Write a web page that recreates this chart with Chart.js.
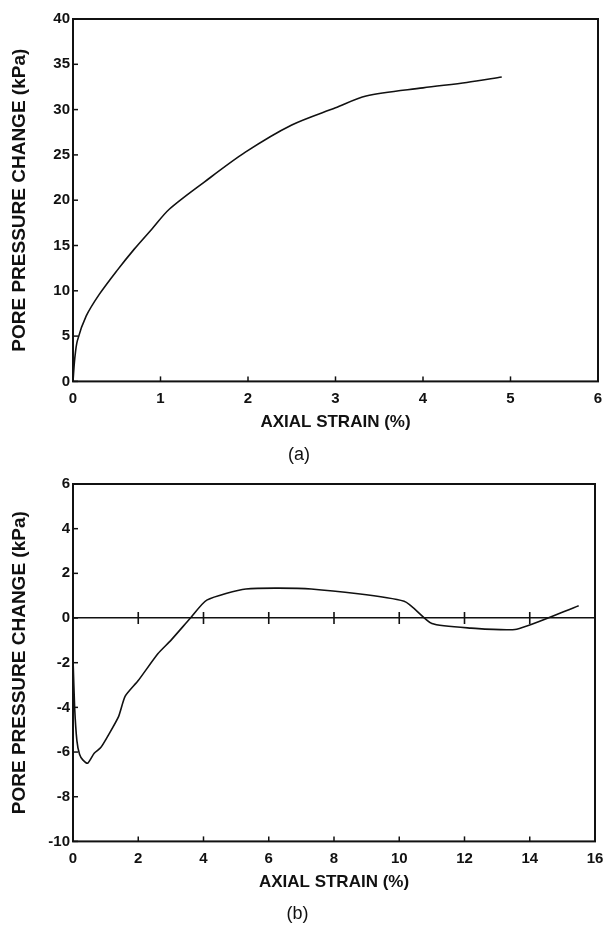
<!DOCTYPE html>
<html>
<head>
<meta charset="utf-8">
<script src="https://cdn.jsdelivr.net/npm/chart.js@4.4.1/dist/chart.umd.min.js"></script>
<style>
  body { margin:0; background:#fff; }
  .box { position:absolute; left:0; width:605px; }
</style>
</head>
<body>
<div class="box" style="top:0;height:466px"><canvas id="chartA"></canvas></div>
<div class="box" style="top:466px;height:459px"><canvas id="chartB"></canvas></div>
<script>
// (a) pore pressure vs strain
const strainA = [0, 0.02, 0.05, 0.15, 0.3, 0.5, 0.7, 0.9, 1.1, 1.5, 1.97, 2.5, 3.0, 3.35, 4.0, 4.5, 4.9];
const poreA   = [0, 2.5, 4.5, 7.2, 9.6, 12.2, 14.6, 16.8, 19.0, 22.0, 25.3, 28.3, 30.2, 31.5, 32.4, 33.0, 33.6];

// (b)
const strainB = [0, 0.05, 0.12, 0.2, 0.3, 0.45, 0.65, 0.85, 1.1, 1.4, 1.6, 2.0, 2.6, 3.0, 3.6, 4.1, 5.3, 7.3, 10.15, 11.0, 12.2, 13.6, 15.5];
const poreB   = [-1.8, -4.0, -5.5, -6.1, -6.35, -6.5, -6.05, -5.8, -5.2, -4.4, -3.5, -2.8, -1.6, -1.0, 0, 0.8, 1.3, 1.3, 0.75, -0.25, -0.45, -0.5, 0.55];
const zeroTicksB = [2, 4, 6, 8, 10, 12, 14];

const ink = '#111';
const tickFont = { family: 'Liberation Sans', size: 15, weight: 'bold' };
const titleFont = { family: 'Liberation Sans', size: 17, weight: 'bold' };

function pts(xs, ys) { return xs.map((x, i) => ({ x: x, y: ys[i] })); }

// frame + inward ticks
const framePlugin = {
  id: 'frame',
  afterDraw(chart) {
    const c = chart.ctx, a = chart.chartArea;
    c.save();
    c.strokeStyle = ink;
    c.lineWidth = 2;
    c.strokeRect(a.left, a.top, a.right - a.left, a.bottom - a.top);
    c.lineWidth = 1.5;
    chart.scales.x.ticks.forEach(t => {
      const px = chart.scales.x.getPixelForValue(t.value);
      c.beginPath(); c.moveTo(px, a.bottom); c.lineTo(px, a.bottom - 5); c.stroke();
    });
    chart.scales.y.ticks.forEach(t => {
      const py = chart.scales.y.getPixelForValue(t.value);
      c.beginPath(); c.moveTo(a.left, py); c.lineTo(a.left + 5, py); c.stroke();
    });
    c.restore();
  }
};

function axes(xmin, xmax, xstep, ymin, ymax, ystep, zeroLine) {
  return {
    x: {
      type: 'linear', min: xmin, max: xmax,
      afterFit: s => { s.height = 51; },
      ticks: { stepSize: xstep, color: ink, font: tickFont, padding: 0 },
      grid: { display: false },
      border: { display: false },
      title: { display: true, text: 'AXIAL STRAIN (%)', color: ink, font: titleFont, padding: { top: 8, bottom: 0 } }
    },
    y: {
      min: ymin, max: ymax,
      afterFit: s => { s.width = 73; },
      ticks: { stepSize: ystep, color: ink, font: tickFont, padding: 3 },
      grid: {
        drawTicks: false,
        color: ctx => (zeroLine && ctx.tick && ctx.tick.value === 0) ? ink : 'transparent',
        lineWidth: 1.5
      },
      border: { display: false },
      title: { display: true, text: 'PORE PRESSURE CHANGE (kPa)', color: ink, font: { family: 'Liberation Sans', size: 19, weight: 'bold' }, padding: { top: 8, bottom: 0 } }
    }
  };
}

new Chart(document.getElementById('chartA'), {
  type: 'scatter',
  data: {
    datasets: [{
      data: pts(strainA, poreA),
      showLine: true, borderColor: ink, borderWidth: 1.6, pointRadius: 0, tension: 0.3
    }]
  },
  options: {
    responsive: true, maintainAspectRatio: false, animation: false,
    layout: { padding: { top: 19, right: 7, left: 0, bottom: 0 } },
    plugins: {
      legend: { display: false }, tooltip: { enabled: false },
      title: { display: true, text: '(a)', position: 'bottom', color: ink, font: { family: 'Liberation Sans', size: 18, weight: 'normal' }, padding: { top: 12, bottom: 0 } }
    },
    scales: axes(0, 6, 1, 0, 40, 5, false)
  },
  plugins: [framePlugin]
});

new Chart(document.getElementById('chartB'), {
  type: 'scatter',
  data: {
    datasets: [{
      data: pts(strainB, poreB),
      showLine: true, borderColor: ink, borderWidth: 1.6, pointRadius: 0, tension: 0.2
    }, {
      data: zeroTicksB.map(x => ({ x: x, y: 0 })),
      pointStyle: 'line', rotation: 90, radius: 6, borderColor: ink, borderWidth: 1.6
    }]
  },
  options: {
    responsive: true, maintainAspectRatio: false, animation: false,
    layout: { padding: { top: 18, right: 10, left: 0, bottom: 0 } },
    plugins: {
      legend: { display: false }, tooltip: { enabled: false },
      title: { display: true, text: '(b)', position: 'bottom', color: ink, font: { family: 'Liberation Sans', size: 18, weight: 'normal' }, padding: { top: 11, bottom: 0 } }
    },
    scales: axes(0, 16, 2, -10, 6, 2, true)
  },
  plugins: [framePlugin]
});
</script>
</body>
</html>
